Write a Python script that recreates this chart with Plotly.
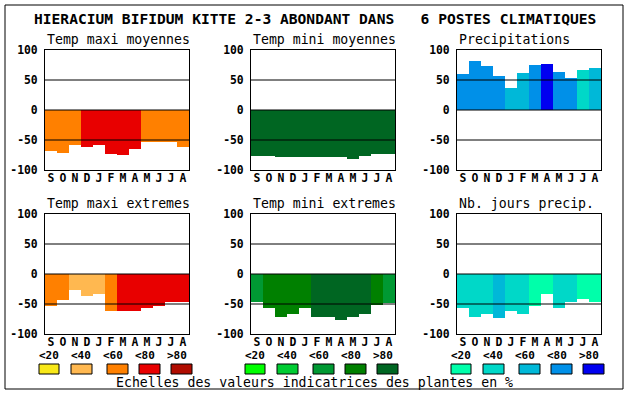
import plotly.graph_objects as go

# ---------------- data ----------------
months = ["S", "O", "N", "D", "J", "F", "M", "A", "M", "J", "J", "A"]
y_ticks = [-100, -50, 0, 50, 100]
y_tick_text = ["-100", "-50", "0", "50", "100"]
class_labels = ["<20", "<40", "<60", "<80", ">80"]

title_text = "HIERACIUM BIFIDUM KITTE 2-3 ABONDANT DANS   6 POSTES CLIMATIQUES"
footer_text = "Echelles des valeurs indicatrices des plantes en %"

panel_titles = ["Temp maxi moyennes", "Temp mini moyennes", "Precipitations",
                "Temp maxi extremes", "Temp mini extremes", "Nb. jours precip."]

temp_maxi_moy = [-68, -71, -58, -61, -58, -73, -75, -65, -54, -54, -54, -61]
temp_maxi_moy_cls = [2, 2, 2, 3, 3, 3, 3, 3, 2, 2, 2, 2]

temp_mini_moy = [-76, -76, -78, -78, -78, -78, -78, -78, -82, -76, -73, -73]
temp_mini_moy_cls = [4, 4, 4, 4, 4, 4, 4, 4, 4, 4, 4, 4]

precip = [60, 82, 73, 57, 37, 62, 75, 77, 63, 53, 67, 70]
precip_cls = [3, 3, 3, 3, 2, 2, 3, 4, 3, 3, 1, 2]

temp_maxi_ext = [-53, -44, -27, -36, -34, -62, -61, -61, -57, -53, -46, -46]
temp_maxi_ext_cls = [2, 2, 1, 1, 1, 2, 3, 3, 3, 3, 3, 3]

temp_mini_ext = [-46, -57, -71, -67, -56, -72, -72, -76, -72, -67, -52, -48]
temp_mini_ext_cls = [2, 3, 3, 3, 3, 4, 4, 4, 4, 4, 3, 2]

nb_jours = [-57, -71, -66, -74, -62, -66, -54, -33, -56, -47, -42, -46]
nb_jours_cls = [1, 1, 1, 2, 1, 1, 0, 0, 1, 1, 0, 0]

warm_colors = ["#F8E818", "#FFB850", "#FF8000", "#E80000", "#B00C00"]
green_colors = ["#00FF00", "#00CC33", "#009933", "#008000", "#006622"]
blue_colors = ["#00FFAA", "#00D8C8", "#00B8D8", "#0090E8", "#0000F0"]

# ---------------- layout geometry ----------------
W, H = 630, 394
col_left = [45, 251, 457]
plot_w = 144
row_top = [50, 214]
plot_h = 120

panels = [
    (temp_maxi_moy, temp_maxi_moy_cls, warm_colors),
    (temp_mini_moy, temp_mini_moy_cls, green_colors),
    (precip, precip_cls, blue_colors),
    (temp_maxi_ext, temp_maxi_ext_cls, warm_colors),
    (temp_mini_ext, temp_mini_ext_cls, green_colors),
    (nb_jours, nb_jours_cls, blue_colors),
]

MONO = "DejaVu Sans Mono"
bold_font = dict(family=MONO, size=11.4, color="black", weight="bold")
legend_font = dict(family=MONO, size=11, color="black", weight="bold")

fig = go.Figure()
shapes = []
annotations = []
layout = {}

for i, (vals, cls, pal) in enumerate(panels):
    k = i + 1
    r, c = divmod(i, 3)
    xs = "" if k == 1 else str(k)
    x0 = col_left[c]
    y0 = row_top[r]
    fig.add_trace(go.Bar(
        x=list(range(12)), y=vals, base=0, width=1,
        marker=dict(color=[pal[j] for j in cls], line=dict(width=0)),
        xaxis="x" + xs, yaxis="y" + xs, showlegend=False, hoverinfo="skip",
    ))
    layout["xaxis" + xs] = dict(
        domain=[x0 / W, (x0 + plot_w) / W], anchor="y" + xs,
        range=[-0.5, 11.5], tickmode="array", tickvals=list(range(12)), ticktext=months,
        showline=True, mirror=True, linecolor="black", linewidth=1,
        showgrid=False, zeroline=False, ticks="", tickfont=bold_font,
        ticklabelstandoff=-3, fixedrange=True, automargin=False,
    )
    layout["yaxis" + xs] = dict(
        domain=[1 - (y0 + plot_h) / H, 1 - y0 / H], anchor="x" + xs,
        range=[-100, 100], tickmode="array", tickvals=y_ticks, ticktext=y_tick_text,
        showline=True, mirror=True, linecolor="black", linewidth=1,
        showgrid=False, zeroline=False, ticks="", tickfont=bold_font,
        ticklabelstandoff=4, fixedrange=True, automargin=False,
    )
    for lvl in [50, 0, -50]:
        shapes.append(dict(type="line", xref="x" + xs + " domain", yref="y" + xs,
                           x0=0, x1=1, y0=lvl, y1=lvl, layer="above",
                           line=dict(color="black", width=1)))
    annotations.append(dict(
        text=panel_titles[i], xref="paper", yref="paper",
        x=x0 / W, xanchor="left", y=1 - (y0 - 11) / H, yanchor="middle",
        showarrow=False, font=dict(family=MONO, size=13.2, color="black"),
    ))

# legends under bottom row
legend_palettes = [warm_colors, green_colors, blue_colors]
box_offsets = [(-6, 14), (26, 47), (62, 83), (94, 115), (126, 147)]
label_offsets = [4, 36, 68, 100, 132]
for c in range(3):
    x0 = col_left[c]
    pal = legend_palettes[c]
    for j in range(5):
        bx0, bx1 = box_offsets[j]
        shapes.append(dict(type="rect", xref="paper", yref="paper",
                           x0=(x0 + bx0) / W, x1=(x0 + bx1) / W,
                           y0=1 - 374 / H, y1=1 - 364 / H,
                           fillcolor=pal[j], line=dict(color="black", width=1), layer="above"))
        annotations.append(dict(
            text=class_labels[j], xref="paper", yref="paper",
            x=(x0 + label_offsets[j]) / W, xanchor="center",
            y=1 - 355.5 / H, yanchor="middle", showarrow=False, font=legend_font,
        ))

# outer frame
shapes.append(dict(type="rect", xref="paper", yref="paper",
                   x0=5 / W, x1=623 / W, y0=1 - 389 / H, y1=1 - 5 / H,
                   line=dict(color="black", width=1), fillcolor="rgba(0,0,0,0)", layer="below"))

annotations.append(dict(text=title_text.replace(" ", "&nbsp;"), xref="paper", yref="paper",
                        x=314.5 / W, y=1 - 18 / H, xanchor="center", yanchor="middle",
                        showarrow=False,
                        font=dict(family=MONO, size=14.6, color="black", weight="bold")))
annotations.append(dict(text=footer_text, xref="paper", yref="paper",
                        x=314.5 / W, y=1 - 382.5 / H, xanchor="center", yanchor="middle",
                        showarrow=False, font=dict(family=MONO, size=13.2, color="black")))

fig.update_layout(
    template="none",
    width=W, height=H, autosize=False,
    margin=dict(l=0, r=0, t=0, b=0, pad=0, autoexpand=False),
    paper_bgcolor="white", plot_bgcolor="white",
    bargap=0, shapes=shapes, annotations=annotations, **layout,
)

fig.write_html("out.html", config={"displayModeBar": False, "responsive": False},
               post_script="document.body.style.margin='0';document.body.style.padding='0';")
